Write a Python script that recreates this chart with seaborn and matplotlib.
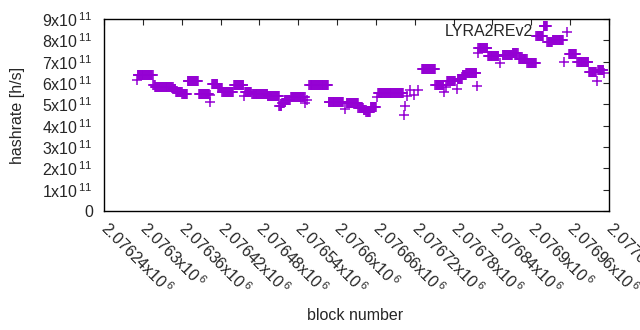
import numpy as np
import pandas as pd
import matplotlib
matplotlib.use("Agg")
import matplotlib.pyplot as plt
import seaborn as sns

# runs of consecutive blocks sharing the same hashrate (block offset from 2076240, value in 1e11 h/s)
block_base = 2076240
run_start = [51, 52, 76, 79, 107, 111, 121, 129, 147, 163, 164, 167, 176, 183, 201, 216, 218, 229,
             253, 271, 275, 279, 289, 311, 314, 317, 347, 373, 375, 393, 401, 405, 412, 422, 423,
             463, 465, 468, 473, 479, 485, 491, 512, 525, 528, 530, 545, 546, 554, 559, 576, 577,
             578, 593, 612, 616, 631, 641, 654, 668, 679, 685, 693, 711, 718, 731, 749, 761, 763, 772]
run_end = [51, 75, 78, 106, 110, 120, 128, 145, 162, 163, 164, 175, 182, 199, 215, 216, 227, 252,
           270, 274, 278, 287, 310, 311, 314, 346, 369, 373, 392, 400, 404, 411, 420, 422, 462,
           463, 465, 468, 473, 479, 485, 511, 524, 525, 528, 542, 545, 553, 558, 575, 576, 577,
           592, 609, 612, 630, 639, 653, 667, 678, 684, 692, 709, 711, 729, 748, 760, 761, 771, 772]
run_hashrate = [6.15, 6.36, 5.90, 5.81, 5.72, 5.58, 5.48, 6.08, 5.48, 5.10, 5.44, 5.95, 5.77, 5.60,
                5.90, 5.39, 5.58, 5.48, 5.37, 4.94, 5.05, 5.20, 5.33, 5.06, 5.20, 5.90, 5.10, 4.77,
                5.05, 4.83, 4.73, 4.66, 4.88, 5.35, 5.52, 4.50, 4.92, 5.39, 5.67, 5.44, 5.67, 6.66,
                5.92, 5.59, 5.81, 6.10, 5.72, 6.19, 6.38, 6.45, 5.86, 7.42, 7.63, 7.25, 6.94, 7.33,
                7.41, 7.13, 6.94, 8.19, 8.67, 7.91, 8.00, 6.98, 7.36, 6.97, 6.50, 6.09, 6.60, 6.48]

blocks = np.concatenate([np.arange(s, e + 1) for s, e in zip(run_start, run_end)]) + block_base
rates = np.concatenate([[v] * (e - s + 1) for s, e, v in zip(run_start, run_end, run_hashrate)]) * 1e11
df = pd.DataFrame({"block": blocks, "hashrate": rates})

sns.set_style("white")
plt.rcParams["font.family"] = ["Liberation Sans", "DejaVu Sans"]
plt.rcParams["mathtext.default"] = "regular"
fs = 11.5

fig = plt.figure(figsize=(6.4, 3.3), dpi=100)
ax = fig.add_axes([104 / 640, 1 - 211 / 330, 505 / 640, 192 / 330])

sns.scatterplot(data=df, x="block", y="hashrate", marker="+", s=42, linewidth=1.1,
                color="#9400D3", label="LYRA2REv2", ax=ax)

ax.set_xlim(2076240, 2077020)
ax.set_ylim(0, 9e11)

xt = np.arange(2076240, 2077021, 60)
ax.set_xticks(xt)
ax.set_xticklabels([f"{v / 1e6:g}x10$^{{\\,6}}$" for v in xt], rotation=-45,
                   ha="left", va="center", rotation_mode="anchor", fontsize=fs)
yt = np.arange(0, 10) * 1e11
ax.set_yticks(yt)
ax.set_yticklabels(["0"] + [f"{k}x10$^{{\\,11}}$" for k in range(1, 10)], fontsize=fs)

ax.tick_params(direction="in", length=4, width=0.8, top=True, right=True)
ax.tick_params(axis="y", pad=8)
ax.tick_params(axis="x", pad=10)
for sp in ax.spines.values():
    sp.set_linewidth(1.0)
    sp.set_color("black")

ax.set_xlabel("block number", fontsize=fs)
ax.set_ylabel("hashrate [h/s]", fontsize=fs)
ax.xaxis.set_label_coords((355 - 104) / 505, -(315 - 211) / 192)
ax.yaxis.set_label_coords(-(104 - 18) / 505, 0.5)
ax.xaxis.label.set_va("center")
ax.yaxis.label.set_va("center")

ax.legend(loc="center right", bbox_to_anchor=((583 - 104) / 505, (211 - 32) / 192), frameon=False,
          markerfirst=False, fontsize=fs, handletextpad=1.1, handlelength=2, borderpad=0,
          borderaxespad=0)

fig.savefig("out.png", dpi=100)
